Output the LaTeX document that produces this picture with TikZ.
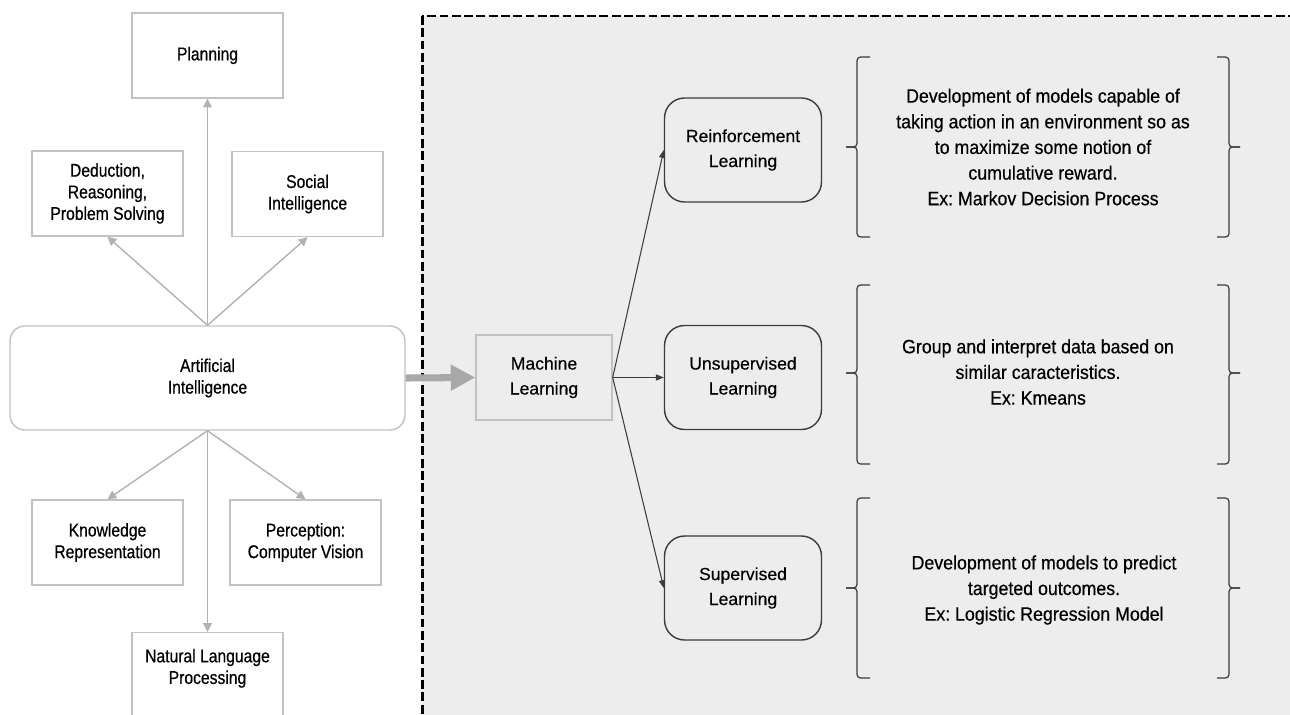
\documentclass[tikz,border=0pt]{standalone}
\usepackage{fontspec}
\setmainfont{Liberation Sans}[FakeBold=0.4]
\newfontfamily\condfont{Liberation Sans}[FakeStretch=0.85, FakeBold=0.5]
\newfontfamily\descfont{Liberation Sans}[FakeStretch=0.92, FakeBold=0.5]
\frenchspacing
\usetikzlibrary{arrows.meta}

\definecolor{boxgray}{HTML}{C2C2C2}
\definecolor{arrgray}{HTML}{B2B2B2}
\definecolor{bigarr}{HTML}{A8A8A8}
\definecolor{panel}{HTML}{EDEDED}
\definecolor{darkline}{HTML}{3C3C3C}

\tikzset{
  topic/.style={draw=boxgray, line width=0.8pt, fill=white, align=center,
    minimum width=3.02cm, minimum height=1.7cm,
    font=\condfont\fontsize{10.5}{12.3}\selectfont},
  aibox/.style={topic, rounded corners=0.3cm, minimum width=7.9cm, minimum height=2.08cm},
  mlbox/.style={draw=boxgray, line width=0.8pt, fill=panel, align=center,
    minimum width=2.72cm, minimum height=1.7cm, font=\fontsize{10}{14.2}\selectfont},
  kind/.style={draw=darkline, line width=0.8pt, rounded corners=0.4cm, align=center,
    minimum width=3.14cm, minimum height=2.08cm, font=\fontsize{10}{14.2}\selectfont},
  desc/.style={align=center, font=\descfont\fontsize{11}{14.6}\selectfont},
  grayarr/.style={draw=arrgray, line width=0.8pt, -{Triangle[length=5pt,width=5pt]}},
  darkarr/.style={draw=darkline, line width=0.6pt, -{Triangle[length=4.5pt,width=3.5pt]}},
  bracket/.style={draw=darkline, line width=0.7pt, rounded corners=2pt},
}

\begin{document}
\begin{tikzpicture}[x=0.02cm, y=-0.02cm]
\useasboundingbox (0,0) rectangle (1290,714);

% shaded machine learning panel
\draw[fill=panel, line width=1.7pt, dash pattern=on 5pt off 2pt] (422,16) rectangle (1310,740);

% artificial intelligence side
\node[aibox] (ai) at (207.5,378) {Artificial\\Intelligence};
\node[topic] (plan) at (207.5,55.5) {Planning};
\node[topic] (ded) at (107.5,193.5) {Deduction,\\Reasoning,\\Problem Solving};
\node[topic] (soc) at (307.5,194) {Social\\Intelligence};
\node[topic] (kr) at (107.5,542.5) {Knowledge\\Representation};
\node[topic] (pcv) at (305.5,542.5) {Perception:\\Computer Vision};
\node[topic, anchor=north, text depth=10pt] (nlp) at (207.5,632) {Natural Language\\Processing};

\draw[grayarr] (ai.north) -- (plan.south);
\draw[grayarr] (ai.north) -- (ded.south);
\draw[grayarr] (ai.north) -- (soc.south);
\draw[grayarr] (ai.south) -- (kr.north);
\draw[grayarr] (ai.south) -- (pcv.north);
\draw[grayarr] (ai.south) -- (nlp.north);

% machine learning side
\node[mlbox] (ml) at (544,377.5) {Machine\\Learning};
\node[kind] (rl) at (743,150) {Reinforcement\\Learning};
\node[kind] (ul) at (743,377.5) {Unsupervised\\Learning};
\node[kind] (sl) at (743,588) {Supervised\\Learning};

\draw[bigarr, line width=4pt, -{Triangle[length=14pt,width=14pt]}] (ai.east) -- (ml.west);

\draw[darkarr] (ml.east) -- (rl.west);
\draw[darkarr] (ml.east) -- (ul.west);
\draw[darkarr] (ml.east) -- (sl.west);

\node[desc] (rldesc) at (1043,147) {Development of models capable of\\taking action in an environment so as\\to maximize some notion of\\cumulative reward.\\Ex: Markov Decision Process};
\node[desc] (uldesc) at (1038,372) {Group and interpret data based on\\similar caracteristics.\\Ex: Kmeans};
\node[desc] (sldesc) at (1044,590) {Development of models to predict\\targeted outcomes.\\Ex: Logistic Regression Model};

% brackets round the descriptions
\foreach \t/\m/\b in {57/147/237, 285/373/464, 498/588/678}{
  \draw[bracket] (870,\t) -- (857,\t) -- (857,\m) -- (846,\m);
  \draw[bracket] (846,\m) -- (857,\m) -- (857,\b) -- (870,\b);
  \draw[bracket] (1217,\t) -- (1229,\t) -- (1229,\m) -- (1240,\m);
  \draw[bracket] (1240,\m) -- (1229,\m) -- (1229,\b) -- (1217,\b);
}
\end{tikzpicture}
\end{document}
